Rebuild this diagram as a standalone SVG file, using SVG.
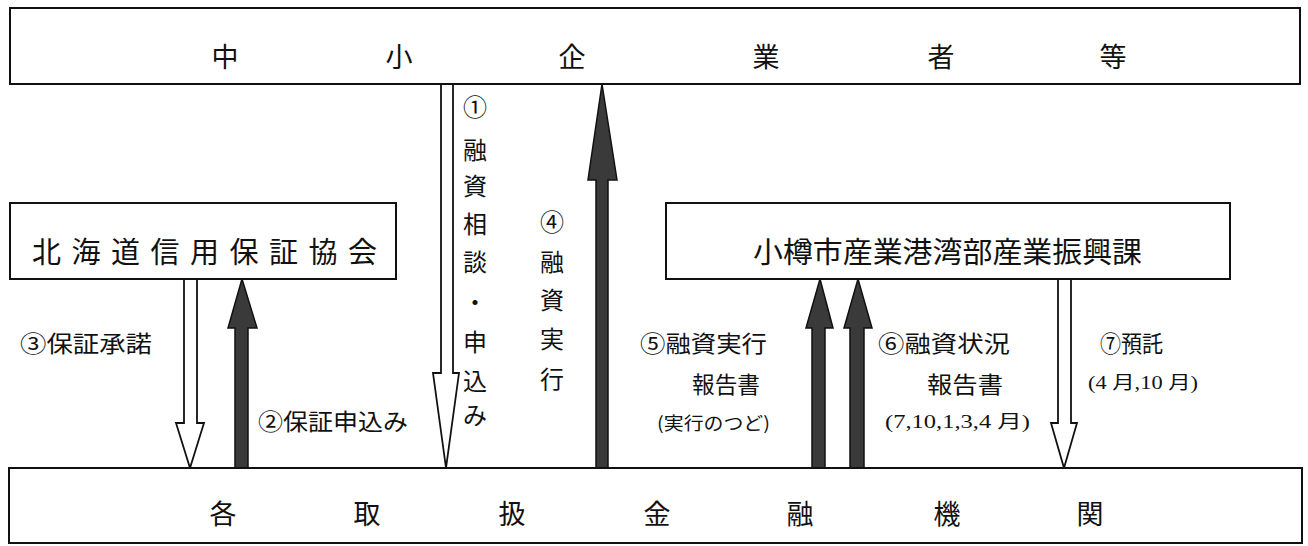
<svg xmlns="http://www.w3.org/2000/svg" width="1308" height="546" viewBox="0 0 1308 546">
<style>
.box{fill:#fff;stroke:#111;stroke-width:2}
.hollow{fill:#fff;stroke:#111;stroke-width:1.8;stroke-linejoin:miter}
.solid{fill:#3a3a3a;stroke:#111;stroke-width:1.5;stroke-linejoin:miter}
text{font-family:"Noto Sans CJK JP","Noto Sans",sans-serif;fill:#111;dominant-baseline:central}
.big{font-size:27px;text-anchor:middle}
.vt{font-size:24px;text-anchor:middle}
.lab{font-size:23px}
.sm{font-size:18px}
.num{font-family:"Liberation Serif","Noto Sans CJK JP",serif}
</style>
<rect width="1308" height="546" fill="#fff"/>
<g id="connectors">
  <path id="a1" class="hollow" d="M441,84 H453 V373 H459 L446,468 L433,373 H441 Z"/>
  <path id="a4" class="solid" d="M602,84 L617,180 H608 V468 H596 V180 H588 Z"/>
  <path id="a3" class="hollow" d="M184,279 H197 V423 H204 L190,468 L176,423 H184 Z"/>
  <path id="a2" class="solid" d="M242,279 L257,328 H248 V468 H235 V328 H228 Z"/>
  <path id="a5" class="solid" d="M820,279 L833,328 H825 V468 H812 V328 H806 Z"/>
  <path id="a6" class="solid" d="M858,279 L872,328 H864 V468 H850 V328 H844 Z"/>
  <path id="a7" class="hollow" d="M1058,279 H1071 V423 H1077 L1064,468 L1051,423 H1058 Z"/>
  <g id="labels">
    <g class="vt">
      <text x="475" y="105">①</text>
      <text x="475" y="148">融</text>
      <text x="475" y="184">資</text>
      <text x="475" y="222">相</text>
      <text x="475" y="260">談</text>
      <text x="475" y="300">・</text>
      <text x="475" y="340">申</text>
      <text x="475" y="379">込</text>
      <text x="475" y="413">み</text>
      <text x="552" y="220">④</text>
      <text x="552" y="260">融</text>
      <text x="552" y="298">資</text>
      <text x="552" y="337">実</text>
      <text x="552" y="377">行</text>
    </g>
    <text class="lab" x="20" y="342" textLength="132" lengthAdjust="spacingAndGlyphs">③保証承諾</text>
    <text class="lab" x="258" y="420" textLength="150" lengthAdjust="spacingAndGlyphs">②保証申込み</text>
    <text class="lab" x="640" y="342" textLength="127" lengthAdjust="spacingAndGlyphs">⑤融資実行</text>
    <text class="lab" x="692" y="383" textLength="68" lengthAdjust="spacingAndGlyphs">報告書</text>
    <text class="sm" x="657" y="422" textLength="113" lengthAdjust="spacingAndGlyphs">(実行のつど)</text>
    <text class="lab" x="878" y="342" textLength="132" lengthAdjust="spacingAndGlyphs">⑥融資状況</text>
    <text class="lab" x="927" y="383" textLength="76" lengthAdjust="spacingAndGlyphs">報告書</text>
    <text class="sm num" x="885" y="422" textLength="145" lengthAdjust="spacingAndGlyphs">(7,10,1,3,4 月)</text>
    <text class="lab" x="1100" y="342" textLength="63" lengthAdjust="spacingAndGlyphs">⑦預託</text>
    <text class="sm num" x="1088" y="383" textLength="110" lengthAdjust="spacingAndGlyphs">(4 月,10 月)</text>
  </g>
</g>
<g id="node-top">
  <rect class="box" x="10" y="8" width="1290" height="76"/>
  <g class="big">
    <text x="225" y="55">中</text>
    <text x="399" y="55">小</text>
    <text x="572" y="55">企</text>
    <text x="766" y="55">業</text>
    <text x="941" y="55">者</text>
    <text x="1113" y="55">等</text>
  </g>
</g>
<g id="node-hokkaido">
  <rect class="box" x="10" y="203" width="386" height="76"/>
  <text x="32" y="250" style="font-size:29px" textLength="345" lengthAdjust="spacing">北海道信用保証協会</text>
</g>
<g id="node-otaru">
  <rect class="box" x="666" y="203" width="564" height="76"/>
  <text x="753" y="250" style="font-size:29px" textLength="389" lengthAdjust="spacingAndGlyphs">小樽市産業港湾部産業振興課</text>
</g>
<g id="node-bank">
  <rect class="box" x="9" y="468" width="1293" height="75"/>
  <g class="big">
    <text x="223" y="512">各</text>
    <text x="367" y="512">取</text>
    <text x="512" y="512">扱</text>
    <text x="657" y="512">金</text>
    <text x="800" y="512">融</text>
    <text x="947" y="512">機</text>
    <text x="1090" y="512">関</text>
  </g>
</g>
</svg>
